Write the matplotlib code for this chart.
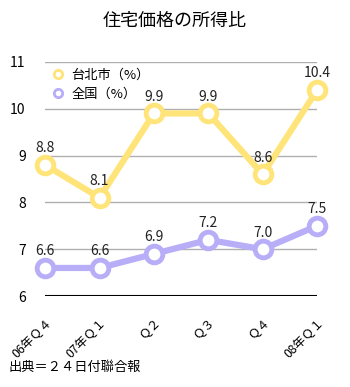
import matplotlib
matplotlib.use("Agg")
import matplotlib.pyplot as plt
from matplotlib.transforms import ScaledTranslation

plt.rcParams['font.family'] = ['Noto Sans CJK JP', 'DejaVu Sans']

categories = ["06年Ｑ４", "07年Ｑ１", "Ｑ２", "Ｑ３", "Ｑ４", "08年Ｑ１"]
taipei = [8.8, 8.1, 9.9, 9.9, 8.6, 10.4]
national = [6.6, 6.6, 6.9, 7.2, 7.0, 7.5]
series_names = ["台北市（%）", "全国（%）"]
yticks = [6, 7, 8, 9, 10, 11]

yellow = "#FFE47A"
purple = "#B8AEF8"

fig = plt.figure(figsize=(3.5, 3.87), dpi=100)
ax = fig.add_axes([0.129, 0.235, 0.777, 0.605])

x = list(range(len(categories)))
handles = []
for vals, col, name in [(taipei, yellow, series_names[0]), (national, purple, series_names[1])]:
    ax.plot(x, vals, color=col, lw=4.5, marker='o', ms=12, mfc='white', mec=col, mew=3.5,
            clip_on=False, zorder=3)
    h, = ax.plot([], [], ls='none', marker='o', ms=6, mfc='white', mec=col, mew=2, label=name)
    handles.append(h)
    for xi, v in zip(x, vals):
        ax.annotate(f"{v:.1f}", (xi, v), xytext=(0, 7), textcoords='offset points',
                    ha='center', va='bottom', fontsize=10, color='#222222', zorder=4)

ax.set_xlim(0, len(categories) - 1)
ax.set_ylim(6, 11)
ax.set_yticks(yticks)
ax.set_yticklabels([str(t) for t in yticks], fontsize=10)
ax.set_xticks(x)
ax.set_xticklabels(categories, rotation=45, ha='right', va='top', fontsize=8.8,
                   rotation_mode='anchor')
off = ScaledTranslation(0.2, 0, fig.dpi_scale_trans)
for lab in ax.get_xticklabels():
    lab.set_transform(lab.get_transform() + off)
ax.tick_params(axis='both', length=0)
ax.tick_params(axis='y', pad=14)
ax.tick_params(axis='x', pad=14)
for s in ax.spines.values():
    s.set_visible(False)
ax.grid(axis='y', color='#b0b0b0', lw=1)
ax.axhline(6, color='black', lw=1.5, zorder=2)
ax.set_axisbelow(True)

ax.legend(handles=handles, labels=series_names, loc='upper left', frameon=False,
          fontsize=9.5, handletextpad=0.5, borderaxespad=0.1, labelspacing=0.5,
          bbox_to_anchor=(0.0, 1.0), handlelength=1.0)

fig.text(0.5, 0.945, "住宅価格の所得比", ha='center', va='center', fontsize=13)
fig.text(0.025, 0.05, "出典＝２４日付聯合報", ha='left', va='center', fontsize=9.5)

fig.savefig("out.png", dpi=100)
